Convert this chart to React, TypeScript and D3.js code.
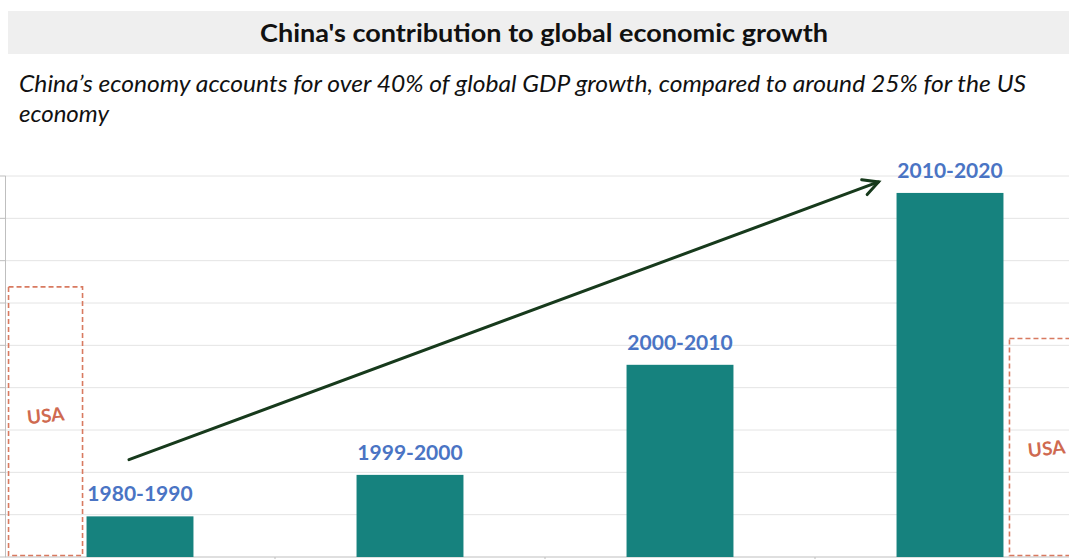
import React from "react";
import * as d3 from "d3";

const categories = ["1980-1990", "1999-2000", "2000-2010", "2010-2020"];
const chinaShare = [4.8, 9.7, 22.7, 43.0];
const usaShare: (number | null)[] = [31.9, null, null, 25.8];
const yTicks = [0, 5, 10, 15, 20, 25, 30, 35, 40, 45];
const titleText = "China's contribution to global economic growth";
const subtitleLines = [
  "China\u2019s economy accounts for over 40% of global GDP growth, compared to around 25% for the US",
  "economy",
];
const arrowFrom = { cat: "1980-1990", value: 11.5 };
const arrowTo = { cat: "2010-2020", value: 44.3 };

const W = 1069;
const H = 559;
const FONT = "Lato, 'Open Sans', sans-serif";

export default function App() {
  const x = d3
    .scaleBand<string>()
    .domain(categories)
    .range([5, 1085])
    .paddingInner(0.604)
    .paddingOuter(0.302);
  const y = d3.scaleLinear().domain([0, 45]).range([557, 176]);
  const bw = x.bandwidth();
  const boxW = 74;

  const ax1 = (x(arrowFrom.cat) as number) + bw / 2 - 11;
  const ay1 = y(arrowFrom.value);
  const ax2 = (x(arrowTo.cat) as number) - 18;
  const ay2 = y(arrowTo.value);
  const ang = Math.atan2(ay2 - ay1, ax2 - ax1);
  const headLen = 17;
  const headAng = Math.PI / 6.5;
  const h1 = [ax2 - headLen * Math.cos(ang - headAng), ay2 - headLen * Math.sin(ang - headAng)];
  const h2 = [ax2 - headLen * Math.cos(ang + headAng), ay2 - headLen * Math.sin(ang + headAng)];

  return (
    <svg
      width={W}
      height={H}
      style={{ position: "absolute", left: 0, top: 0, background: "#fff" }}
      fontFamily={FONT}
    >
      {/* title bar */}
      <rect x={8} y={11} width={W - 8} height={43} fill="#efefef" />
      <text
        x={260}
        y={41.5}
        fontSize={24}
        fontWeight={700}
        fill="#111"
        textLength={568}
        lengthAdjust="spacingAndGlyphs"
      >
        {titleText}
      </text>
      <text
        x={19}
        y={92}
        fontSize={22.5}
        fontStyle="italic"
        fill="#111"
        textLength={1007}
        lengthAdjust="spacingAndGlyphs"
      >
        {subtitleLines[0]}
      </text>
      <text x={19} y={122} fontSize={22.5} fontStyle="italic" fill="#111" textLength={90} lengthAdjust="spacingAndGlyphs">
        {subtitleLines[1]}
      </text>

      {/* gridlines */}
      {yTicks.slice(1).map((t) => (
        <line key={t} x1={5} x2={W} y1={y(t)} y2={y(t)} stroke="#e4e4e4" strokeWidth={1} />
      ))}
      {/* y axis */}
      <line x1={5.5} x2={5.5} y1={y(45)} y2={y(0)} stroke="#bfbfbf" />
      {yTicks.map((t) => (
        <line key={t} x1={0} x2={5.5} y1={y(t)} y2={y(t)} stroke="#bfbfbf" />
      ))}
      {/* x axis */}
      <line x1={5} x2={W} y1={y(0)} y2={y(0)} stroke="#bfbfbf" />
      {categories.slice(1).map((c) => {
        const tx = (x(c) as number) - (x.step() - bw) / 2;
        return <line key={c} x1={tx} x2={tx} y1={y(0)} y2={y(0) + 5} stroke="#bfbfbf" />;
      })}

      {/* USA boxes */}
      {usaShare.map((v, i) => {
        if (v == null) return null;
        const bx = x(categories[i]) as number;
        const left = i === 0 ? bx - 4 - boxW : bx + bw + 6;
        const top = y(v);
        const cx = left + boxW / 2;
        const cy = (top + y(0)) / 2 - (i === 0 ? 7 : 0);
        return (
          <g key={i}>
            <rect
              x={left}
              y={top}
              width={boxW}
              height={y(0) - top - 1.5}
              fill="none"
              stroke="#d87a60"
              strokeWidth={1.6}
              strokeDasharray="5,3"
            />
            <text
              x={cx}
              y={cy}
              textAnchor="middle"
              dominantBaseline="central"
              fontSize={19}
              fontWeight={700}
              fill="#cf6a50"
              transform={`rotate(-6 ${cx} ${cy})`}
            >
              USA
            </text>
          </g>
        );
      })}

      {/* bars */}
      {categories.map((c, i) => (
        <rect
          key={c}
          x={x(c)}
          y={y(chinaShare[i])}
          width={bw}
          height={y(0) - y(chinaShare[i])}
          fill="#16827e"
        />
      ))}
      {categories.map((c, i) => (
        <text
          key={c}
          x={(x(c) as number) + bw / 2}
          y={y(chinaShare[i]) - 15}
          textAnchor="middle"
          fontSize={21}
          fontWeight={700}
          fill="#4a74c4"
        >
          {c}
        </text>
      ))}

      {/* arrow */}
      <g stroke="#173a1c" strokeWidth={3} strokeLinecap="round" fill="none">
        <line x1={ax1} y1={ay1} x2={ax2} y2={ay2} />
        <polyline points={`${h1[0]},${h1[1]} ${ax2},${ay2} ${h2[0]},${h2[1]}`} strokeLinejoin="miter" />
      </g>
    </svg>
  );
}
